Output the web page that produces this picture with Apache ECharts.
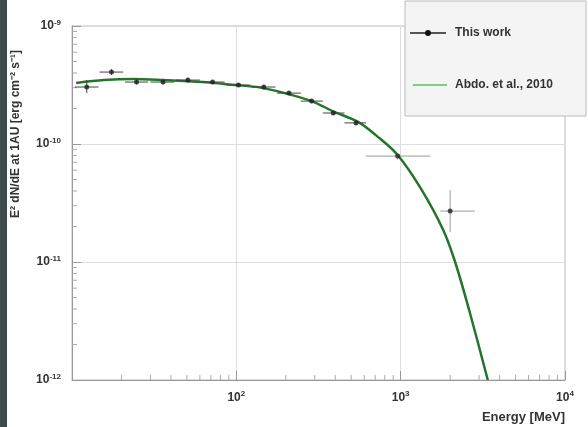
<!DOCTYPE html>
<html>
<head>
<meta charset="utf-8">
<script src="https://cdn.jsdelivr.net/npm/echarts@6/dist/echarts.min.js"></script>
<style>html,body{margin:0;padding:0;background:#fff}#c{width:588px;height:427px}</style>
</head>
<body>
<div id="c"></div>
<script>
// ---- data ----
const pointEnergy = [12.3, 17.4, 24.7, 35.8, 50.7, 71.7, 103, 147, 209, 287, 389, 535, 959, 2000];
const pointFlux   = [3.04e-10, 4.07e-10, 3.35e-10, 3.35e-10, 3.48e-10, 3.35e-10, 3.16e-10, 3.04e-10, 2.70e-10, 2.31e-10, 1.83e-10, 1.51e-10, 7.9e-11, 2.7e-11];
const energyLo    = [10.4, 14.7, 21, 30, 43, 61, 87, 124, 177, 247, 336, 455, 615, 1742];
const energyHi    = [14.5, 20.5, 29, 42, 60, 85, 122, 173, 247, 336, 455, 615, 1518, 2830];
const fluxLo      = [2.70e-10, 3.85e-10, 3.20e-10, 3.20e-10, 3.33e-10, 3.22e-10, 3.04e-10, 2.92e-10, 2.60e-10, 2.22e-10, 1.76e-10, 1.45e-10, 7.4e-11, 1.79e-11];
const fluxHi      = [3.48e-10, 4.30e-10, 3.50e-10, 3.50e-10, 3.63e-10, 3.48e-10, 3.28e-10, 3.16e-10, 2.80e-10, 2.40e-10, 1.90e-10, 1.57e-10, 8.4e-11, 4.07e-11];

const modelEnergy = [10.6, 15.6, 23.6, 35.8, 62.4, 98.6, 138, 197, 287, 395, 551, 727, 959, 1320, 1815, 2145, 2640, 3390];
const modelFlux   = [3.29e-10, 3.48e-10, 3.55e-10, 3.48e-10, 3.35e-10, 3.16e-10, 3.02e-10, 2.70e-10, 2.31e-10, 1.87e-10, 1.54e-10, 1.15e-10, 8.07e-11, 4.24e-11, 1.87e-11, 1.0e-11, 3.7e-12, 1.0e-12];

const legendNames = ['This work', 'Abdo. et al., 2010'];
const xTickLabels = {2: '2', 3: '3', 4: '4'};
const yTickLabels = {'-9': '-9', '-10': '-10', '-11': '-11', '-12': '-12'};

// minor tick positions (axis decoration)
const xMinor = [], yMinor = [];
for (let d = 1; d <= 3; d++) for (let m = 2; m <= 9; m++) xMinor.push(m * Math.pow(10, d));
for (let d = -12; d <= -10; d++) for (let m = 2; m <= 9; m++) yMinor.push(m * Math.pow(10, d));

const chart = echarts.init(document.getElementById('c'));
const green = '#25742a';

function supLabel(v, map) {
  const e = String(Math.round(Math.log10(v)));
  if (!(e in map)) return '';
  return '{b|10}{s|' + map[e] + '}';
}
const richLab = {
  b: {fontSize: 12, fontWeight: 'bold', color: '#333', fontFamily: 'Liberation Sans'},
  s: {fontSize: 8, fontWeight: 'bold', color: '#333', fontFamily: 'Liberation Sans', verticalAlign: 'top', padding: [0, 0, 7, 0]}
};

chart.setOption({
  animation: false,
  backgroundColor: '#fff',
  grid: {left: 72, right: 23, top: 26, bottom: 47, show: true, borderColor: '#bbb', borderWidth: 1},
  xAxis: {
    type: 'log', logBase: 10, min: 10, max: 10000,
    axisLine: {lineStyle: {color: '#999'}},
    axisTick: {inside: true, length: 9, lineStyle: {color: '#999'}},
    splitLine: {show: true, lineStyle: {color: '#ddd'}},
    axisLabel: {margin: 10, formatter: v => supLabel(v, xTickLabels), rich: richLab, showMinLabel: false}
  },
  yAxis: {
    type: 'log', logBase: 10, min: 1e-12, max: 1e-9,
    axisLine: {lineStyle: {color: '#999'}},
    axisTick: {inside: true, length: 9, lineStyle: {color: '#999'}},
    splitLine: {show: true, lineStyle: {color: '#ddd'}},
    axisLabel: {margin: 11, formatter: v => supLabel(v, yTickLabels), rich: richLab}
  },
  series: [
    {
      name: 'minorX', type: 'custom', silent: true, clip: false,
      data: xMinor.map(v => [v, 1e-12]),
      renderItem: (params, api) => {
        const p = api.coord([api.value(0), api.value(1)]);
        return {type: 'line', shape: {x1: p[0], y1: p[1], x2: p[0], y2: p[1] - 5}, style: {stroke: '#aaa', lineWidth: 1}};
      }
    },
    {
      name: 'minorY', type: 'custom', silent: true, clip: false,
      data: yMinor.map(v => [10, v]),
      renderItem: (params, api) => {
        const p = api.coord([api.value(0), api.value(1)]);
        return {type: 'line', shape: {x1: p[0], y1: p[1], x2: p[0] + 5, y2: p[1]}, style: {stroke: '#aaa', lineWidth: 1}};
      }
    },
    {
      name: legendNames[1], type: 'line', smooth: 0.3, showSymbol: false, z: 3,
      data: modelEnergy.map((e, i) => [e, modelFlux[i]]),
      lineStyle: {color: green, width: 2.5}
    },
    {
      name: 'errors', type: 'custom', z: 4,
      data: pointEnergy.map((e, i) => [e, pointFlux[i], energyLo[i], energyHi[i], fluxLo[i], fluxHi[i]]),
      renderItem: (params, api) => {
        const c = api.coord([api.value(0), api.value(1)]);
        const l = api.coord([api.value(2), api.value(1)]);
        const r = api.coord([api.value(3), api.value(1)]);
        const lo = api.coord([api.value(0), api.value(4)]);
        const hi = api.coord([api.value(0), api.value(5)]);
        const col = params.dataIndex >= 12 ? '#999' : '#444';
        return {type: 'group', children: [
          {type: 'line', shape: {x1: l[0], y1: c[1], x2: r[0], y2: c[1]}, style: {stroke: col, lineWidth: 1}},
          {type: 'line', shape: {x1: c[0], y1: lo[1], x2: c[0], y2: hi[1]}, style: {stroke: col, lineWidth: 1}}
        ]};
      }
    },
    {
      name: legendNames[0], type: 'scatter', z: 5, symbol: 'circle', symbolSize: 5,
      data: pointEnergy.map((e, i) => [e, pointFlux[i]]),
      itemStyle: {color: '#222'}
    }
  ],
  graphic: [
    {type: 'rect', left: 0, top: 0, shape: {width: 7, height: 427}, style: {fill: '#3e4c4c'}},
    {type: 'rect', shape: {x: 405, y: 1, width: 181, height: 115}, style: {fill: '#f4f4f4', stroke: '#bbb', lineWidth: 1}, z: 10},
    {type: 'line', shape: {x1: 410, y1: 33, x2: 446, y2: 33}, style: {stroke: '#222', lineWidth: 1.5}, z: 11},
    {type: 'circle', shape: {cx: 428, cy: 33, r: 3}, style: {fill: '#111'}, z: 11},
    {type: 'text', x: 455, y: 33, style: {text: legendNames[0], fill: '#333', font: 'bold 12px "Liberation Sans"', verticalAlign: 'middle'}, z: 11},
    {type: 'line', shape: {x1: 413, y1: 85, x2: 447, y2: 85}, style: {stroke: '#7fcf7f', lineWidth: 2}, z: 11},
    {type: 'text', x: 455, y: 85, style: {text: legendNames[1], fill: '#333', font: 'bold 12px "Liberation Sans"', verticalAlign: 'middle'}, z: 11},
    {type: 'text', x: 565, y: 417, style: {text: 'Energy [MeV]', fill: '#333', font: 'bold 13px "Liberation Sans"', align: 'right', verticalAlign: 'middle'}},
    {type: 'text', x: 16, y: 134, rotation: Math.PI / 2, style: {text: 'E² dN/dE at 1AU [erg cm⁻² s⁻¹]', fill: '#333', font: 'bold 12px "Liberation Sans"', align: 'center', verticalAlign: 'middle'}}
  ]
});
</script>
</body>
</html>
